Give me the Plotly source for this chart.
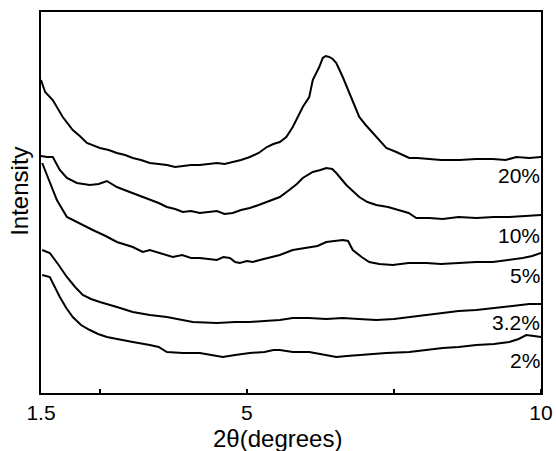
import plotly.graph_objects as go

# 2theta (degrees) and intensity (arb. units, stacked)
x20 = [1.50, 1.57, 1.70, 1.87, 2.04, 2.16, 2.28, 2.50, 2.65, 2.79, 2.93, 3.06, 3.20, 3.35, 3.50, 3.64, 3.78, 3.91,
       4.05, 4.20, 4.35, 4.49, 4.62, 4.76, 4.90, 5.05, 5.20, 5.34, 5.45, 5.56, 5.67, 5.78, 5.87, 5.95, 6.06, 6.12,
       6.23, 6.29, 6.34, 6.40, 6.46, 6.52, 6.63, 6.74, 6.83, 6.91, 7.02, 7.14, 7.25, 7.37, 7.54, 7.65, 7.76, 7.90,
       8.05, 8.30, 8.61, 8.90, 9.18, 9.40, 9.58, 9.80, 10.0]
y20 = [313, 301, 293, 276, 263, 257, 250, 245, 243, 240, 238, 235, 233, 230, 229, 228, 226, 227,
       228, 228, 229, 230, 229, 231, 233, 236, 240, 246, 249, 251, 256, 266, 276, 286, 296, 313,
       326, 335, 337, 336, 334, 330, 316, 300, 287, 276, 268, 260, 253, 245, 241, 238, 235, 235,
       234, 233, 233, 234, 234, 233, 236, 235, 236]

x10 = [1.50, 1.60, 1.70, 1.82, 1.94, 2.11, 2.33, 2.48, 2.62, 2.79, 2.92, 3.06, 3.20, 3.35, 3.50, 3.64, 3.78, 3.91,
       4.05, 4.20, 4.35, 4.49, 4.62, 4.76, 4.90, 5.05, 5.20, 5.34, 5.56, 5.72, 5.85, 5.95, 6.12, 6.25, 6.35, 6.45,
       6.52, 6.69, 6.91, 7.05, 7.20, 7.40, 7.59, 7.75, 7.88, 8.10, 8.33, 8.60, 8.90, 9.20, 9.46, 9.75, 10.0]
y10 = [237, 236, 236, 223, 215, 210, 208, 209, 212, 206, 203, 200, 197, 193, 190, 186, 184, 181,
       182, 180, 181, 182, 179, 180, 183, 185, 188, 191, 196, 203, 209, 215, 221, 223, 225, 224,
       220, 208, 196, 191, 188, 186, 183, 180, 175, 175, 174, 176, 175, 176, 176, 177, 178]

x5 = [1.52, 1.65, 1.77, 1.94, 2.04, 2.20, 2.38, 2.60, 2.79, 3.06, 3.23, 3.35, 3.47, 3.60, 3.74, 3.90, 4.05, 4.20,
      4.35, 4.49, 4.60, 4.71, 4.80, 4.88, 5.00, 5.10, 5.22, 5.34, 5.56, 5.78, 6.06, 6.20, 6.35, 6.50, 6.63, 6.72,
      6.80, 6.95, 7.08, 7.25, 7.48, 7.75, 8.05, 8.30, 8.61, 8.90, 9.18, 9.45, 9.69, 9.85, 10.0]
y5 = [230, 210, 193, 176, 173, 168, 163, 157, 151, 146, 141, 143, 141, 139, 136, 138, 135, 135,
      134, 133, 136, 135, 131, 130, 132, 131, 133, 135, 138, 143, 146, 147, 151, 152, 153, 152,
      143, 136, 131, 129, 128, 130, 130, 129, 130, 131, 131, 133, 135, 137, 140]

x32 = [1.52, 1.65, 1.80, 1.94, 2.08, 2.21, 2.35, 2.50, 2.79, 3.06, 3.35, 3.64, 4.08, 4.49, 4.80, 5.05, 5.30, 5.56,
       5.78, 6.05, 6.35, 6.63, 6.90, 7.20, 7.50, 7.76, 8.05, 8.33, 8.60, 8.90, 9.20, 9.46, 9.65, 9.80, 10.0]
y32 = [143, 140, 128, 116, 106, 98, 94, 91, 86, 81, 78, 76, 71, 70, 71, 71, 72, 73,
       75, 75, 74, 75, 74, 73, 74, 76, 78, 80, 82, 83, 85, 87, 88, 89, 89]

x2 = [1.52, 1.65, 1.82, 1.93, 2.04, 2.18, 2.33, 2.47, 2.62, 2.85, 3.06, 3.35, 3.50, 3.64, 3.91, 4.20, 4.40, 4.59,
      4.80, 5.05, 5.30, 5.45, 5.56, 5.78, 6.06, 6.30, 6.52, 6.70, 6.91, 7.15, 7.37, 7.76, 8.05, 8.33, 8.60, 8.90,
      9.20, 9.46, 9.62, 9.75, 9.88, 10.0]
y2 = [118, 116, 96, 85, 76, 68, 63, 59, 56, 53, 51, 48, 46, 41, 40, 40, 38, 36,
      38, 40, 41, 43, 43, 41, 41, 38, 36, 37, 38, 39, 40, 41, 43, 45, 46, 48,
      49, 51, 54, 58, 57, 56]

series = [("20%", x20, y20, 218), ("10%", x10, y10, 158), ("5%", x5, y5, 118),
          ("3.2%", x32, y32, 71), ("2%", x2, y2, 33)]

tick_vals = [1.5, 5, 10]
tick_text = ["1.5", "5", "10"]

FONT = "Liberation Sans, Arial, sans-serif"

fig = go.Figure()
for name, xs, ys, _ in series:
    fig.add_trace(go.Scatter(x=xs, y=ys, mode="lines", name=name,
                             line=dict(color="black", width=2), showlegend=False))

for name, xs, ys, ly in series:
    fig.add_annotation(x=10, y=ly, xref="x", yref="y", text=name, showarrow=False,
                       xanchor="right", yanchor="middle", xshift=1,
                       font=dict(family=FONT, size=21, color="black"))

fig.add_annotation(x=0.472, y=0, xref="paper", yref="paper", yshift=-45,
                   text="2θ(degrees)", showarrow=False, xanchor="center", yanchor="middle",
                   font=dict(family=FONT, size=24, color="black"))
fig.add_annotation(x=0, y=0.528, xref="paper", yref="paper", xshift=-21,
                   text="Intensity", showarrow=False, textangle=-90,
                   xanchor="center", yanchor="middle",
                   font=dict(family=FONT, size=24, color="black"))

fig.update_xaxes(range=[1.5, 10], tickvals=tick_vals, ticktext=tick_text, ticks="",
                 automargin=False,
                 showline=True, linecolor="black", linewidth=2, mirror=True,
                 showgrid=False, zeroline=False,
                 tickfont=dict(family=FONT, size=21, color="black"),
                 minor=dict(tick0=0, dtick=2.5, ticks="inside", ticklen=4,
                            tickcolor="black", tickwidth=1.5, showgrid=False))
fig.update_yaxes(range=[0, 381], showticklabels=False, ticks="", automargin=False,
                 showline=True, linecolor="black", linewidth=2, mirror=True,
                 showgrid=False, zeroline=False)

fig.update_layout(width=556, height=451, margin=dict(l=41, r=15, t=12, b=58),
                  paper_bgcolor="white", plot_bgcolor="white",
                  font=dict(family=FONT, color="black"))

fig.write_html("out.html")
